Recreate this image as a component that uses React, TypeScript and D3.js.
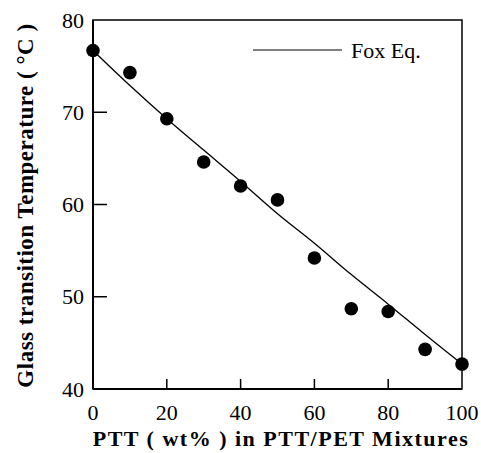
import React from "react";
import * as d3 from "d3";

const ptt = [0, 10, 20, 30, 40, 50, 60, 70, 80, 90, 100];
const tgMeasured = [76.7, 74.3, 69.3, 64.6, 62.0, 60.5, 54.2, 48.7, 48.4, 44.3, 42.7];
const foxX = [0, 10, 20, 30, 40, 50, 60, 70, 80, 90, 100];
const foxTg = [76.7, 72.9, 69.3, 65.9, 62.5, 59.0, 55.8, 52.4, 49.2, 45.9, 42.7];
const xTicks = [0, 20, 40, 60, 80, 100];
const yTicks = [40, 50, 60, 70, 80];

const W = 481, H = 453;
const L = 93, R = 462, T = 20, B = 389;
const font = "'Liberation Serif', 'Times New Roman', serif";

export default function App() {
  const x = d3.scaleLinear().domain([0, 100]).range([L, R]);
  const y = d3.scaleLinear().domain([40, 80]).range([B, T]);
  const line = d3.line<number>().x((d, i) => x(foxX[i])).y((d) => y(d)).curve(d3.curveMonotoneX);
  return (
    <svg width={W} height={H} style={{ position: "absolute", left: 0, top: 0, background: "#fff" }}>
      <rect x={L} y={T} width={R - L} height={B - T} fill="none" stroke="#000" strokeWidth={1.5} />
      <line x1={L} y1={T} x2={L} y2={B} stroke="#000" strokeWidth={2} />
      <line x1={L} y1={B} x2={R} y2={B} stroke="#000" strokeWidth={2} />
      {yTicks.map((t) => (
        <g key={"y" + t}>
          {t > 40 && t < 80 && <line x1={L} x2={L + 14} y1={y(t)} y2={y(t)} stroke="#000" strokeWidth={1.5} />}
          <text x={L - 9} y={y(t) + 7.5} textAnchor="end" fontFamily={font} fontSize={22}>{t}</text>
        </g>
      ))}
      {xTicks.map((t) => (
        <g key={"x" + t}>
          {t > 0 && t < 100 && <line x1={x(t)} x2={x(t)} y1={B} y2={B - 10} stroke="#000" strokeWidth={1.5} />}
          <text x={x(t)} y={B + 31} textAnchor="middle" fontFamily={font} fontSize={22}>{t}</text>
        </g>
      ))}
      <path d={line(foxTg) || ""} fill="none" stroke="#000" strokeWidth={1.3} />
      {ptt.map((p, i) => (
        <circle key={i} cx={x(p)} cy={y(tgMeasured[i])} r={6.8} fill="#000" />
      ))}
      <line x1={253} x2={342} y1={50} y2={50} stroke="#000" strokeWidth={1.2} />
      <text x={351} y={58} fontFamily={font} fontSize={22}>Fox Eq.</text>
      <text x={281} y={446} textAnchor="middle" fontFamily={font} fontSize={22} fontWeight="bold" letterSpacing={1.5}>PTT ( wt% ) in PTT/PET Mixtures</text>
      <text transform={`translate(33,205.5) rotate(-90)`} textAnchor="middle" fontFamily={font} fontSize={23} fontWeight="bold" letterSpacing={0.5}>Glass transition Temperature ( °C )</text>
    </svg>
  );
}
